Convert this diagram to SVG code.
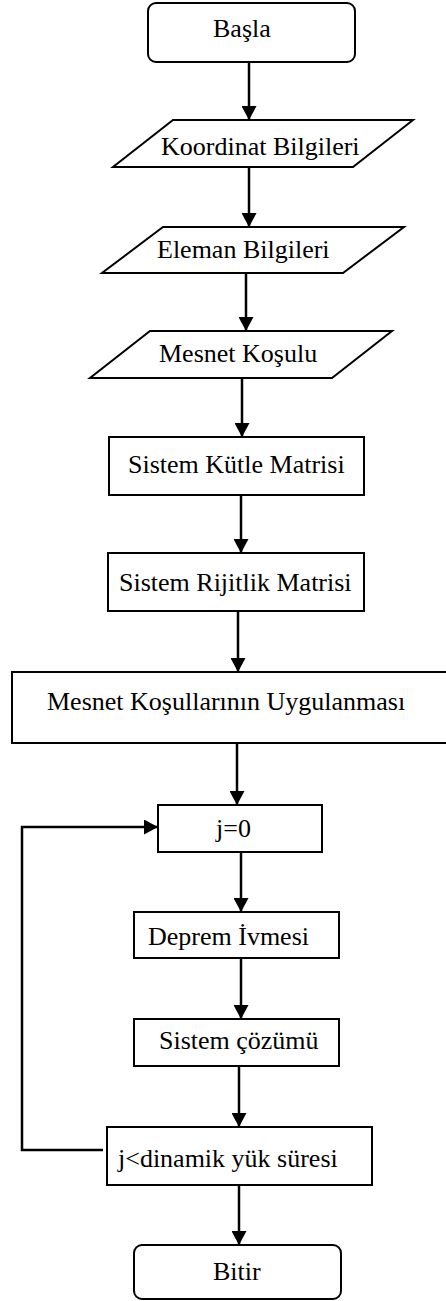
<svg xmlns="http://www.w3.org/2000/svg" width="446" height="1301" viewBox="0 0 446 1301">
<style>
.box{fill:#fff;stroke:#000;stroke-width:2}
.t{font-family:"Liberation Serif","Times New Roman",serif;font-size:26px;fill:#000}
.c{fill:none;stroke:#000;stroke-width:2.5}
</style>
<defs>
<marker id="ah" markerUnits="userSpaceOnUse" markerWidth="15" markerHeight="15" refX="14" refY="7.5" orient="auto">
<path d="M0,0 L14,7.5 L0,15 z" fill="#000"/>
</marker>
</defs>
<rect width="446" height="1301" fill="#fff"/>
<g id="connectors">
<line class="c" x1="249" y1="62" x2="249" y2="120" marker-end="url(#ah)"/>
<line class="c" x1="249" y1="167" x2="249" y2="227" marker-end="url(#ah)"/>
<line class="c" x1="246" y1="273" x2="246" y2="331" marker-end="url(#ah)"/>
<line class="c" x1="242" y1="378" x2="242" y2="437" marker-end="url(#ah)"/>
<line class="c" x1="241" y1="495" x2="241" y2="553" marker-end="url(#ah)"/>
<line class="c" x1="238" y1="611" x2="238" y2="672" marker-end="url(#ah)"/>
<line class="c" x1="237" y1="743" x2="237" y2="805" marker-end="url(#ah)"/>
<line class="c" x1="241" y1="852" x2="241" y2="912" marker-end="url(#ah)"/>
<line class="c" x1="241" y1="958" x2="241" y2="1019" marker-end="url(#ah)"/>
<line class="c" x1="239" y1="1066" x2="239" y2="1127" marker-end="url(#ah)"/>
<line class="c" x1="239" y1="1185" x2="239" y2="1245" marker-end="url(#ah)"/>
<polyline class="c" points="103,1150 22,1150 22,827 158,827" marker-end="url(#ah)"/>
</g>
<g id="n-basla"><rect class="box" x="148" y="3" width="207" height="59" rx="8"/><text class="t" x="213" y="37">Başla</text></g>
<g id="n-koordinat"><polygon class="box" points="173,120 413,120 353,167 113,167"/><text class="t" x="161" y="155">Koordinat Bilgileri</text></g>
<g id="n-eleman"><polygon class="box" points="163,227 404,227 343,273 102,273"/><text class="t" x="157" y="258">Eleman Bilgileri</text></g>
<g id="n-mesnet"><polygon class="box" points="150,331 392,331 332,378 90,378"/><text class="t" x="159" y="362">Mesnet Koşulu</text></g>
<g id="n-kutle"><rect class="box" x="109" y="437" width="255" height="58"/><text class="t" x="128" y="473">Sistem Kütle Matrisi</text></g>
<g id="n-rijitlik"><rect class="box" x="108" y="553" width="256" height="58"/><text class="t" x="119" y="591">Sistem Rijitlik Matrisi</text></g>
<g id="n-uygulama"><rect class="box" x="12" y="672" width="440" height="71"/><text class="t" x="47" y="710">Mesnet Koşullarının Uygulanması</text></g>
<g id="n-j0"><rect class="box" x="158" y="805" width="164" height="47"/><text class="t" x="216" y="837">j=0</text></g>
<g id="n-deprem"><rect class="box" x="134" y="912" width="205" height="46"/><text class="t" x="148" y="945">Deprem İvmesi</text></g>
<g id="n-cozum"><rect class="box" x="134" y="1019" width="205" height="47"/><text class="t" x="159" y="1049">Sistem çözümü</text></g>
<g id="n-kosul"><rect class="box" x="107" y="1127" width="265" height="58"/><text class="t" x="118" y="1167">j&lt;dinamik yük süresi</text></g>
<g id="n-bitir"><rect class="box" x="134" y="1245" width="207" height="54" rx="8"/><text class="t" x="213" y="1280">Bitir</text></g>
</svg>
